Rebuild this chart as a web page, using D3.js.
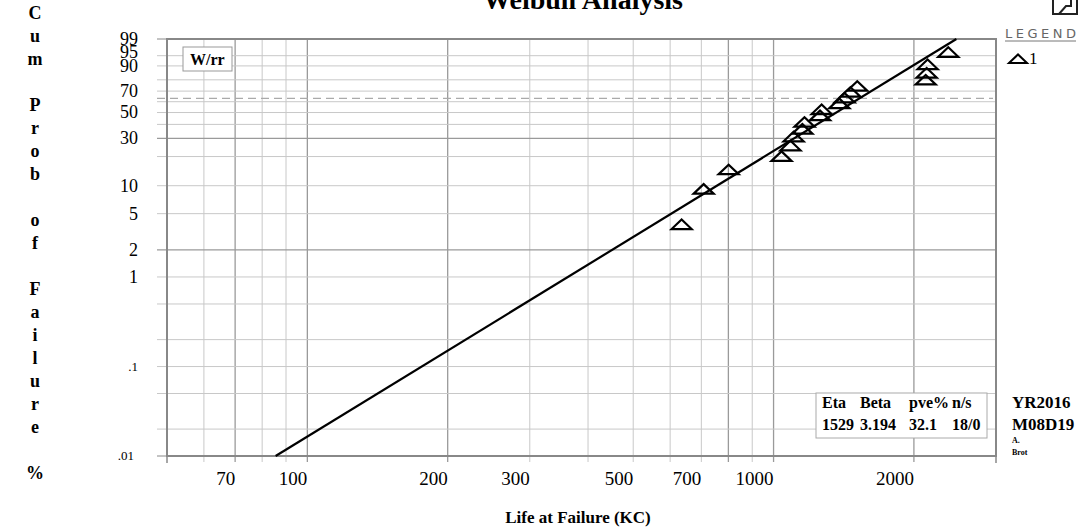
<!DOCTYPE html>
<html>
<head>
<meta charset="utf-8">
<script src="https://cdn.jsdelivr.net/npm/d3@7"></script>
<style>
  body { margin: 0; background: #fff; }
  svg { display: block; font-family: 'Liberation Serif', 'Times New Roman', serif; }
</style>
</head>
<body>
<div id="container"></div>
<script>
// failure times (KC) and median ranks (%)
const lifeValues = [635, 708, 801, 1040, 1087, 1104, 1153, 1165, 1258, 1268, 1384, 1420, 1462, 1512, 2120, 2130, 2140, 2370];
const rankValues = [3.8, 9.2, 14.7, 20.1, 25.5, 31.0, 36.4, 41.8, 47.3, 52.7, 58.2, 63.6, 69.0, 74.5, 79.9, 85.3, 90.8, 96.2];

// fitted line ends (eta 1529, beta 3.194)
const fitLife = [85.5, 2467];
const fitPct = [0.01, 99];
const charLifePct = 63.2;

const xGrid = [60, 70, 80, 90, 100, 200, 300, 400, 500, 600, 700, 800, 900, 1000, 2000];
const xGridDark = [70, 100, 200, 800, 1000, 2000];
const xTickLabels = [70, 100, 200, 300, 500, 700, 1000, 2000];
const yGrid = [0.02, 0.05, 0.1, 0.2, 0.5, 1, 2, 5, 10, 20, 30, 40, 50, 60, 70, 80, 90, 95];
const yGridDark = [30, 2];
const yTickLabels = [99, 95, 90, 70, 50, 30, 10, 5, 2, 1, 0.1, 0.01];

const statHeads = ['Eta', 'Beta', 'pve%', 'n/s'];
const statValues = ['1529', '3.194', '32.1', '18/0'];

const svgWidth = 1083;
const svgHeight = 530;
const plotLeft = 167, plotRight = 996, plotTop = 39, plotBottom = 456;

const weib = p => Math.log(-Math.log(1 - p / 100));

const x = d3.scaleLog().domain([50, 3000]).range([plotLeft, plotRight]);
const y = d3.scaleLinear().domain([weib(0.01), weib(99)]).range([plotBottom, plotTop]);

const svg = d3
  .select('#container')
  .append('svg')
  .attr('width', svgWidth)
  .attr('height', svgHeight);

svg.append('rect').attr('width', svgWidth).attr('height', svgHeight).attr('fill', '#fff');

// Grid
svg
  .selectAll('line.vgrid')
  .data(xGrid)
  .enter()
  .append('line')
  .attr('class', 'vgrid')
  .attr('x1', d => x(d))
  .attr('x2', d => x(d))
  .attr('y1', plotTop)
  .attr('y2', plotBottom + 6)
  .attr('stroke', d => (xGridDark.includes(d) ? '#9a9a9a' : '#c8c8c8'))
  .attr('stroke-width', d => (xGridDark.includes(d) ? 1.3 : 1));

svg
  .selectAll('line.hgrid')
  .data(yGrid)
  .enter()
  .append('line')
  .attr('class', 'hgrid')
  .attr('x1', plotLeft - 10)
  .attr('x2', plotRight)
  .attr('y1', d => y(weib(d)))
  .attr('y2', d => y(weib(d)))
  .attr('stroke', d => (yGridDark.includes(d) ? '#9a9a9a' : '#c8c8c8'))
  .attr('stroke-width', d => (yGridDark.includes(d) ? 1.3 : 1));

// 63.2% line
svg
  .append('line')
  .attr('x1', plotLeft - 10)
  .attr('x2', plotRight - 3)
  .attr('y1', y(weib(charLifePct)))
  .attr('y2', y(weib(charLifePct)))
  .attr('stroke', '#aaa')
  .attr('stroke-width', 1.2)
  .attr('stroke-dasharray', '8,5');

// Border
svg
  .append('rect')
  .attr('x', plotLeft)
  .attr('y', plotTop)
  .attr('width', plotRight - plotLeft)
  .attr('height', plotBottom - plotTop)
  .attr('fill', 'none')
  .attr('stroke', '#888')
  .attr('stroke-width', 2);

svg
  .selectAll('line.edge')
  .data([50, 3000])
  .enter()
  .append('line')
  .attr('x1', d => x(d))
  .attr('x2', d => x(d))
  .attr('y1', plotBottom)
  .attr('y2', plotBottom + 7)
  .attr('stroke', '#888')
  .attr('stroke-width', 1.5);

svg
  .selectAll('line.yedge')
  .data([plotTop, plotBottom])
  .enter()
  .append('line')
  .attr('x1', plotLeft - 10)
  .attr('x2', plotLeft)
  .attr('y1', d => d)
  .attr('y2', d => d)
  .attr('stroke', '#888');

// Axis labels
svg
  .selectAll('text.xlab')
  .data(xTickLabels)
  .enter()
  .append('text')
  .attr('class', 'xlab')
  .attr('x', d => x(d))
  .attr('y', 485)
  .attr('text-anchor', 'end')
  .attr('font-size', 19)
  .text(d => d);

svg
  .selectAll('text.ylab')
  .data(yTickLabels)
  .enter()
  .append('text')
  .attr('class', 'ylab')
  .attr('x', d => (d < 0.05 ? 134 : 138))
  .attr('y', d => y(weib(d)))
  .attr('dy', d => (d === 95 ? '0.12em' : '0.33em'))
  .attr('text-anchor', 'end')
  .attr('font-size', d => (d < 1 ? 13 : 18))
  .text(d => (d < 1 ? String(d).replace('0.', '.') : d));

svg
  .append('text')
  .attr('x', 578)
  .attr('y', 523)
  .attr('text-anchor', 'middle')
  .attr('font-size', 17)
  .attr('font-weight', 'bold')
  .text('Life at Failure (KC)');

svg
  .selectAll('text.ytitle')
  .data('Cum Prob of Failure %'.split(''))
  .enter()
  .append('text')
  .attr('class', 'ytitle')
  .attr('x', 35)
  .attr('y', (d, i) => 13 + i * 23)
  .attr('dy', '0.35em')
  .attr('text-anchor', 'middle')
  .attr('font-size', 18)
  .attr('font-weight', 'bold')
  .text(d => d);

svg
  .append('text')
  .attr('x', 583)
  .attr('y', 9)
  .attr('text-anchor', 'middle')
  .attr('font-size', 28)
  .attr('font-weight', 'bold')
  .text('Weibull Analysis');

// W/rr box
svg
  .append('rect')
  .attr('x', 183)
  .attr('y', 47)
  .attr('width', 49)
  .attr('height', 24)
  .attr('fill', '#fff')
  .attr('stroke', '#999');
svg
  .append('text')
  .attr('x', 190)
  .attr('y', 65)
  .attr('font-size', 16)
  .attr('font-weight', 'bold')
  .text('W/rr');

// Fit line
svg
  .append('line')
  .attr('x1', x(fitLife[0]))
  .attr('y1', y(weib(fitPct[0])))
  .attr('x2', x(fitLife[1]))
  .attr('y2', y(weib(fitPct[1])))
  .attr('stroke', '#000')
  .attr('stroke-width', 2.2);

// Points
const tri = 'M-10,4.5L10,4.5L0,-5Z';
svg
  .selectAll('path.pt')
  .data(lifeValues)
  .enter()
  .append('path')
  .attr('class', 'pt')
  .attr('d', tri)
  .attr('transform', (d, i) => `translate(${x(d)},${y(weib(rankValues[i]))})`)
  .attr('fill', 'none')
  .attr('stroke', '#000')
  .attr('stroke-width', 2.2);

// Stats box
svg
  .append('rect')
  .attr('x', 816)
  .attr('y', 393)
  .attr('width', 171)
  .attr('height', 45)
  .attr('fill', '#fff')
  .attr('stroke', '#aaa');

const statX = [822, 860, 909, 952];
svg
  .selectAll('text.head')
  .data(statHeads)
  .enter()
  .append('text')
  .attr('class', 'head')
  .attr('x', (d, i) => statX[i])
  .attr('y', 408)
  .attr('font-size', 16)
  .attr('font-weight', 'bold')
  .text(d => d);
svg
  .selectAll('text.val')
  .data(statValues)
  .enter()
  .append('text')
  .attr('class', 'val')
  .attr('x', (d, i) => statX[i])
  .attr('y', 430)
  .attr('font-size', 16)
  .attr('font-weight', 'bold')
  .text(d => d);

const side = svg.append('g').attr('font-weight', 'bold');
side.append('text').attr('x', 1012).attr('y', 408).attr('font-size', 17).text('YR2016');
side.append('text').attr('x', 1012).attr('y', 430).attr('font-size', 17).text('M08D19');
side.append('text').attr('x', 1012).attr('y', 443).attr('font-size', 8).text('A.');
side.append('text').attr('x', 1012).attr('y', 455).attr('font-size', 8).text('Brot');

// Legend
svg
  .append('text')
  .attr('x', 1005)
  .attr('y', 38)
  .attr('font-family', 'DejaVu Sans')
  .attr('font-size', 13)
  .attr('fill', '#666')
  .attr('textLength', 71)
  .text('LEGEND');
svg
  .append('line')
  .attr('x1', 1005)
  .attr('x2', 1076)
  .attr('y1', 41)
  .attr('y2', 41)
  .attr('stroke', '#777');
svg
  .append('path')
  .attr('d', 'M-9,4L9,4L0,-4.5Z')
  .attr('transform', 'translate(1018,59)')
  .attr('fill', 'none')
  .attr('stroke', '#000')
  .attr('stroke-width', 2);
svg
  .append('text')
  .attr('x', 1029)
  .attr('y', 64)
  .attr('font-size', 17)
  .text('1');

// corner icon
svg
  .append('path')
  .attr('d', 'M1053,-2V14H1077V-2M1059,14L1066,6H1071V0')
  .attr('fill', 'none')
  .attr('stroke', '#222')
  .attr('stroke-width', 2);
</script>
</body>
</html>
